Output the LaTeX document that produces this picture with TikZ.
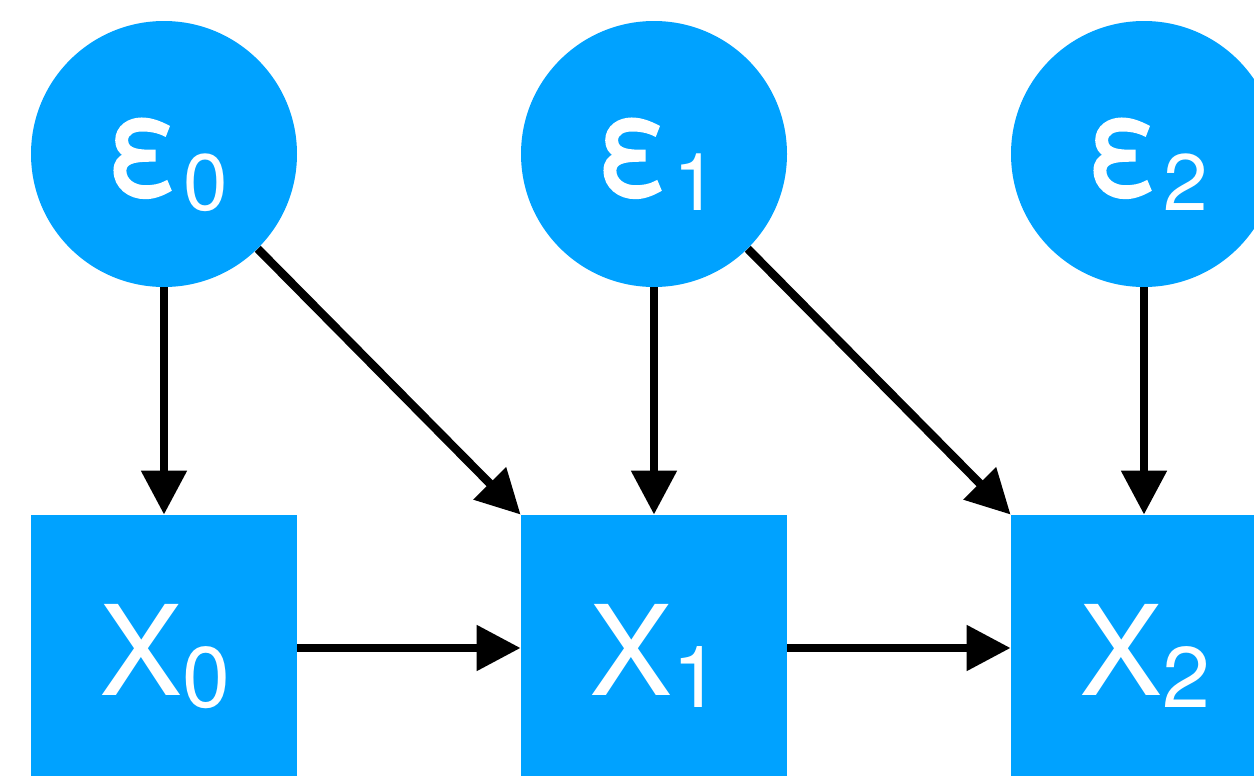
\documentclass[tikz,border=0pt]{standalone}
\usepackage{fontspec}
\setmainfont{TeX Gyre Heros}
\newfontfamily\epsfont[FakeBold=3]{TeX Gyre Heros}
\usetikzlibrary{arrows.meta}
\definecolor{nodeblue}{HTML}{00A2FF}
\tikzset{
  noise/.style={circle, fill=nodeblue, draw=none, minimum size=133pt, inner sep=0pt},
  var/.style={rectangle, fill=nodeblue, draw=none, minimum size=133pt, inner sep=0pt},
  elabel/.style={text=white, anchor=base west, inner sep=0pt},
  conn/.style={line width=4.2pt, draw=black, -{Triangle[length=22pt,width=22pt]}, shorten >=0pt}
}
\newcommand{\epsl}[1]{\scalebox{0.87}[1]{\epsfont\fontsize{66pt}{68pt}\selectfont ε}\hspace{3pt}\raisebox{-8.5pt}{\fontsize{40pt}{42pt}\selectfont #1}}
\newcommand{\xlab}[1]{\fontsize{62.5pt}{64pt}\selectfont X\raisebox{-6pt}{\fontsize{43pt}{45pt}\selectfont #1}}
\begin{document}
\begin{tikzpicture}[x=0.5pt,y=-0.5pt]
\useasboundingbox (0,0) rectangle (1254,776);
\clip (0,0) rectangle (1254,776);
\node[noise] (e0) at (164,154) {};
\node[noise] (e1) at (654,154) {};
\node[noise] (e2) at (1144,154) {};
\node[var] (x0) at (164,648) {};
\node[var] (x1) at (654,648) {};
\node[var] (x2) at (1144,648) {};
\node[elabel] (le0) at (107,193) {\epsl{0}};
\node[elabel] (le1) at (597,193) {\epsl{1}};
\node[elabel] (le2) at (1087,193) {\epsl{2}};
\node[elabel] (lx0) at (99,695) {\xlab{0}};
\node[elabel] (lx1) at (589,695) {\xlab{1}};
\node[elabel] (lx2) at (1079,695) {\xlab{2}};
\draw[conn] (e0) -- (x0);
\draw[conn] (e1) -- (x1);
\draw[conn] (e2) -- (x2);
\draw[conn] (e0) -- (x1.north west);
\draw[conn] (e1) -- (x2.north west);
\draw[conn] (x0) -- (x1);
\draw[conn] (x1) -- (x2);
\end{tikzpicture}
\end{document}
